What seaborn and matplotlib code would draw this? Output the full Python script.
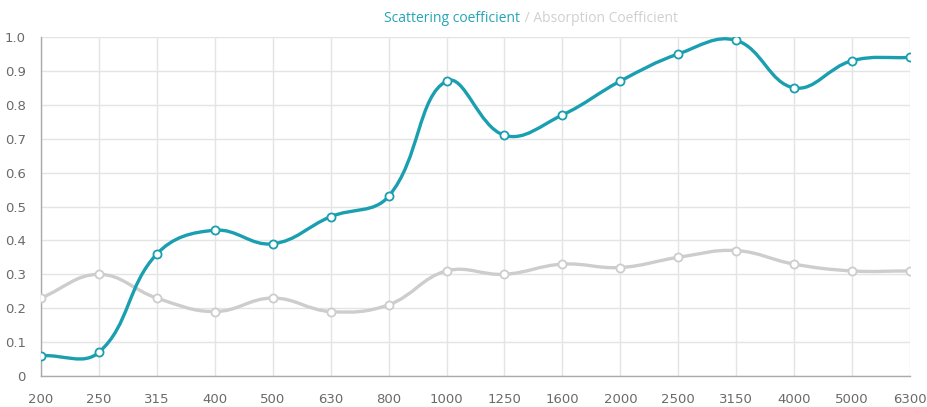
import numpy as np
import pandas as pd
import matplotlib
matplotlib.use("Agg")
import matplotlib.pyplot as plt
from matplotlib.path import Path
from matplotlib.patches import PathPatch
import seaborn as sns

frecuencias = ["200", "250", "315", "400", "500", "630", "800", "1000", "1250",
               "1600", "2000", "2500", "3150", "4000", "5000", "6300"]
scattering = [0.06, 0.07, 0.36, 0.43, 0.39, 0.47, 0.53, 0.87, 0.71,
              0.77, 0.87, 0.95, 0.99, 0.85, 0.93, 0.94]
absorption = [0.23, 0.30, 0.23, 0.19, 0.23, 0.19, 0.21, 0.31, 0.30,
              0.33, 0.32, 0.35, 0.37, 0.33, 0.31, 0.31]

TEAL = "#1a9fb0"
GRIS = "#cdcdcd"

# escala aproximada en pixeles, para que la curva suavizada se parezca a Chart.js
PX_X = 57.9
PX_Y = 339.0


def curva_suave(ax, xs, ys, color, lw, tension=0.4):
    px = np.array(xs, float) * PX_X
    py = np.array(ys, float) * PX_Y
    n = len(px)
    cps = []
    for i in range(n):
        p0 = i - 1 if i > 0 else i
        p2 = i + 1 if i < n - 1 else i
        d01 = np.hypot(px[i] - px[p0], py[i] - py[p0])
        d12 = np.hypot(px[p2] - px[i], py[p2] - py[i])
        tot = d01 + d12 if d01 + d12 > 0 else 1
        fa = tension * d01 / tot
        fb = tension * d12 / tot
        dx = px[p2] - px[p0]
        dy = py[p2] - py[p0]
        prev_cp = (px[i] - fa * dx, py[i] - fa * dy)
        next_cp = (px[i] + fb * dx, py[i] + fb * dy)
        cps.append((prev_cp, next_cp))
    verts = [(px[0], py[0])]
    codes = [Path.MOVETO]
    for i in range(1, n):
        verts += [cps[i - 1][1], cps[i][0], (px[i], py[i])]
        codes += [Path.CURVE4] * 3
    verts = [(vx / PX_X, vy / PX_Y) for vx, vy in verts]
    patch = PathPatch(Path(verts, codes), facecolor="none", edgecolor=color,
                      lw=lw, capstyle="round", joinstyle="round", zorder=3)
    ax.add_patch(patch)


df = pd.DataFrame({
    "idx": list(range(len(frecuencias))) * 2,
    "valor": scattering + absorption,
    "serie": ["Scattering coefficient"] * len(frecuencias) + ["Absorption Coefficient"] * len(frecuencias),
})

sns.set_style("white")
plt.rcParams["font.family"] = ["Open Sans", "DejaVu Sans"]

fig = plt.figure(figsize=(9.28, 4.07), dpi=100)
ax = fig.add_axes([41 / 928, 1 - 376 / 407, (910 - 41) / 928, (376 - 37) / 407])

x = np.arange(len(frecuencias))
curva_suave(ax, x, absorption, GRIS, 2.4)
curva_suave(ax, x, scattering, TEAL, 2.4)

sns.scatterplot(data=df[df["serie"] == "Absorption Coefficient"], x="idx", y="valor",
                color="white", edgecolor=GRIS, linewidth=1.3, s=34, zorder=4, ax=ax, legend=False)
sns.scatterplot(data=df[df["serie"] == "Scattering coefficient"], x="idx", y="valor",
                color="white", edgecolor=TEAL, linewidth=1.3, s=34, zorder=5, ax=ax, legend=False)

ax.set_xlim(0, len(frecuencias) - 1)
ax.set_ylim(0, 1.0)
ax.set_xticks(x)
ax.set_xticklabels(frecuencias)
yt = np.round(np.arange(0, 1.01, 0.1), 1)
ax.set_yticks(yt)
ax.set_yticklabels(["0"] + [f"{v:.1f}" for v in yt[1:]])
ax.tick_params(axis="both", labelsize=9.5, labelcolor="#6a6a6a", color="#e0e0e0",
               length=8, width=1, pad=3, direction="out")
ax.tick_params(axis="x", pad=4)
for lab in ax.get_xticklabels() + ax.get_yticklabels():
    lab.set_family(["DejaVu Sans"])
ax.grid(True, color="#e4e4e4", lw=1)
ax.set_axisbelow(True)
for s in ["top", "right"]:
    ax.spines[s].set_visible(False)
ax.spines["left"].set_color("#aaaaaa")
ax.spines["bottom"].set_color("#aaaaaa")
ax.spines["left"].set_linewidth(1)
ax.spines["bottom"].set_linewidth(1)
ax.set_xlabel("")
ax.set_ylabel("")

# leyenda como titulo
fig.text(520 / 928, 1 - 18 / 407, "Scattering coefficient", color="#25a5b5",
         fontsize=10, ha="right", va="center")
fig.text(521 / 928, 1 - 18 / 407, " / Absorption Coefficient", color="#d0d0d0",
         fontsize=10, ha="left", va="center")

fig.savefig("out.png", dpi=100)
